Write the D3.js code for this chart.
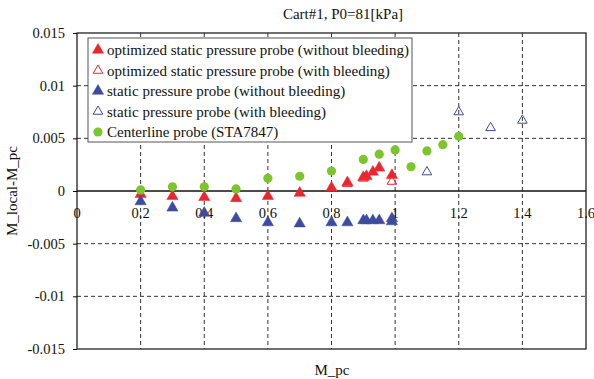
<!DOCTYPE html>
<html>
<head>
<meta charset="utf-8">
<script src="https://d3js.org/d3.v7.min.js"></script>
<style>
  body { margin: 0; background: #fff; }
  text { font-family: "Liberation Serif", "Times New Roman", serif; }
</style>
</head>
<body>
<div id="chart"></div>
<script>
// datos
const titulo = "Cart#1, P0=81[kPa]";
const xTicks = [0, 0.2, 0.4, 0.6, 0.8, 1, 1.2, 1.4, 1.6];
const yTicks = [0.015, 0.01, 0.005, 0, -0.005, -0.01, -0.015];

const optSinPurga = [[0.2, -0.0003], [0.3, -0.0005], [0.4, -0.0006], [0.5, -0.0007], [0.6, -0.0005],
  [0.7, -0.0002], [0.8, 0.0003], [0.85, 0.0008], [0.9, 0.0013], [0.91, 0.0014],
  [0.93, 0.0018], [0.95, 0.0022], [0.99, 0.0015]];
const optConPurga = [[0.85, 0.0007], [0.9, 0.0012], [0.99, 0.0009]];
const estSinPurga = [[0.2, -0.001], [0.3, -0.0016], [0.4, -0.0021], [0.5, -0.0026], [0.6, -0.003],
  [0.7, -0.0031], [0.8, -0.003], [0.85, -0.003], [0.9, -0.0028], [0.91, -0.0028],
  [0.93, -0.0028], [0.95, -0.0028], [0.99, -0.0026], [0.99, -0.0029]];
const estConPurga = [[1.1, 0.0018], [1.2, 0.0075], [1.3, 0.006], [1.4, 0.0067]];
const lineaCentral = [[0.2, 0.0001], [0.3, 0.0004], [0.4, 0.0004], [0.5, 0.0002], [0.6, 0.0012],
  [0.7, 0.0014], [0.8, 0.0019], [0.9, 0.003], [0.95, 0.0035], [1.0, 0.0039],
  [1.05, 0.0023], [1.1, 0.0038], [1.15, 0.0044], [1.2, 0.0052]];

const rojo = "#e8282e", azul = "#3d4c9e", verde = "#7cc52c";

const series = [
  { nombre: "optimized static pressure probe (without bleeding)", datos: optSinPurga, tipo: "tri", color: rojo, lleno: true },
  { nombre: "optimized static pressure probe (with bleeding)", datos: optConPurga, tipo: "tri", color: rojo, lleno: false },
  { nombre: "static pressure probe (without bleeding)", datos: estSinPurga, tipo: "tri", color: azul, lleno: true },
  { nombre: "static pressure probe (with bleeding)", datos: estConPurga, tipo: "tri", color: azul, lleno: false },
  { nombre: "Centerline probe (STA7847)", datos: lineaCentral, tipo: "circ", color: verde, lleno: true }
];

const W = 594, H = 379;
const margin = { top: 33, right: 8, bottom: 30, left: 77 };
const width = W - margin.left - margin.right;
const height = H - margin.top - margin.bottom;

const svg = d3.select("#chart").append("svg")
  .attr("width", W).attr("height", H);

const g = svg.append("g")
  .attr("transform", `translate(${margin.left}, ${margin.top})`);

const x = d3.scaleLinear().domain([0, 1.6]).range([0, width]);
const y = d3.scaleLinear().domain([-0.015, 0.015]).range([height, 0]);

// rejilla
g.selectAll("line.vgrid")
  .data(xTicks.filter(d => d > 0 && d < 1.6))
  .enter().append("line")
  .attr("x1", d => x(d)).attr("x2", d => x(d))
  .attr("y1", 0).attr("y2", height)
  .attr("stroke", "#333").attr("stroke-dasharray", "4,3").attr("stroke-width", 1);

g.selectAll("line.hgrid")
  .data(yTicks.filter(d => d !== 0 && Math.abs(d) < 0.015))
  .enter().append("line")
  .attr("x1", 0).attr("x2", width)
  .attr("y1", d => y(d)).attr("y2", d => y(d))
  .attr("stroke", "#333").attr("stroke-dasharray", "4,3").attr("stroke-width", 1);

// marco
g.append("rect")
  .attr("width", width).attr("height", height)
  .attr("fill", "none").attr("stroke", "#222").attr("stroke-width", 1.3);

// eje y
const ejeY = g.append("g")
  .call(d3.axisLeft(y).tickValues(yTicks).tickSize(4).tickFormat(d => d === 0 ? "0" : String(+d.toFixed(3))));
ejeY.select(".domain").remove();
ejeY.selectAll("text").attr("font-size", 14.5).attr("fill", "#111")
  .style("font-family", "'Liberation Serif', serif").attr("x", -12);

// eje x sobre el cero
g.append("line")
  .attr("x1", 0).attr("x2", width).attr("y1", y(0)).attr("y2", y(0))
  .attr("stroke", "#111").attr("stroke-width", 1.3);

g.selectAll("text.xlab")
  .data(xTicks)
  .enter().append("text")
  .attr("x", d => x(d)).attr("y", y(0) + 27)
  .attr("text-anchor", "middle")
  .attr("font-size", 14.5).attr("fill", "#111")
  .text(d => String(d));

// marcas
const tri = d3.symbol().type(d3.symbolTriangle).size(55);
const triHueco = d3.symbol().type(d3.symbolTriangle).size(40);

series.forEach(s => {
  if (s.tipo === "circ") {
    g.selectAll(null).data(s.datos).enter().append("circle")
      .attr("cx", d => x(d[0])).attr("cy", d => y(d[1])).attr("r", 4.6)
      .attr("fill", s.color);
  } else {
    g.selectAll(null).data(s.datos).enter().append("path")
      .attr("d", s.lleno ? tri : triHueco)
      .attr("transform", d => `translate(${x(d[0])}, ${y(d[1])})`)
      .attr("fill", s.lleno ? s.color : "#fff")
      .attr("fill-opacity", s.lleno ? 1 : 0)
      .attr("stroke", s.color).attr("stroke-width", s.lleno ? 0.5 : 1);
  }
});

// leyenda
const leyenda = svg.append("g").attr("transform", "translate(88, 38)");
leyenda.append("rect")
  .attr("width", 324).attr("height", 104)
  .attr("fill", "#fff").attr("stroke", "#555").attr("stroke-width", 1);

series.forEach((s, i) => {
  const cy = 12 + i * 20.5;
  if (s.tipo === "circ") {
    leyenda.append("circle").attr("cx", 10).attr("cy", cy).attr("r", 4.6).attr("fill", s.color);
  } else {
    leyenda.append("path")
      .attr("d", s.lleno ? tri : triHueco)
      .attr("transform", `translate(10, ${cy})`)
      .attr("fill", s.lleno ? s.color : "none")
      .attr("stroke", s.color).attr("stroke-width", s.lleno ? 0.5 : 1);
  }
  leyenda.append("text")
    .attr("x", 19).attr("y", cy + 5)
    .attr("font-size", 15).attr("fill", "#111")
    .text(s.nombre);
});

// titulos
svg.append("text")
  .attr("x", 343).attr("y", 19)
  .attr("text-anchor", "middle").attr("font-size", 15).attr("fill", "#111")
  .text(titulo);

svg.append("text")
  .attr("x", 332).attr("y", 375)
  .attr("text-anchor", "middle").attr("font-size", 15).attr("fill", "#111")
  .text("M_pc");

svg.append("text")
  .attr("transform", "translate(17, 191) rotate(-90)")
  .attr("text-anchor", "middle").attr("font-size", 15).attr("fill", "#111")
  .text("M_local-M_pc");
</script>
</body>
</html>
